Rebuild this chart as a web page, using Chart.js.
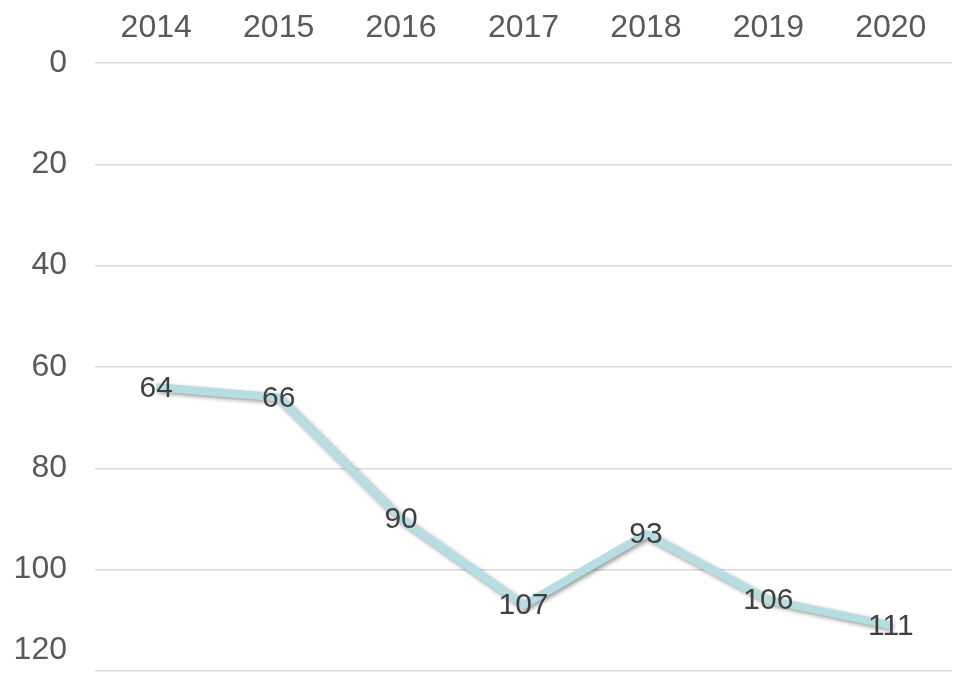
<!DOCTYPE html>
<html>
<head>
<meta charset="utf-8">
<script src="https://cdn.jsdelivr.net/npm/chart.js@4/dist/chart.umd.min.js"></script>
<style>
  body { margin: 0; background: #fff; }
  .res { width: 953px; height: 682px; }
</style>
</head>
<body>
<div class="res"><canvas id="chart"></canvas></div>
<script>
const years = ['2014', '2015', '2016', '2017', '2018', '2019', '2020'];
const values = [64, 66, 90, 107, 93, 106, 111];
const yTicks = [0, 20, 40, 60, 80, 100, 120];
const tickFont = '"Liberation Sans", Arial, sans-serif';

// soft shadow under the line
const lineShadow = {
    id: 'lineShadow',
    beforeDatasetDraw(chart) {
        let ctx = chart.ctx;
        ctx.save();
        ctx.shadowColor = 'rgba(0, 0, 0, 0.4)';
        ctx.shadowBlur = 4;
        ctx.shadowOffsetX = 2;
        ctx.shadowOffsetY = 2;
    },
    afterDatasetDraw(chart) {
        chart.ctx.restore();
    }
}

// value labels centred on each point, plus the last y label kept inside the canvas
const valueLabels = {
    id: 'valueLabels',
    afterDatasetsDraw(chart) {
        let ctx = chart.ctx;
        let meta = chart.getDatasetMeta(0);
        ctx.save();
        ctx.font = '30px ' + tickFont;
        ctx.fillStyle = '#404040';
        ctx.textAlign = 'center';
        ctx.textBaseline = 'middle';
        meta.data.forEach((pt, i) => {
            ctx.fillText(values[i], pt.x, pt.y + 1);
        });
        let y = chart.scales.y;
        let last = yTicks[yTicks.length - 1];
        ctx.font = '32px ' + tickFont;
        ctx.fillStyle = '#595959';
        ctx.textAlign = 'right';
        ctx.fillText(last, chart.chartArea.left - 28, y.getPixelForValue(last) - 21);
        ctx.restore();
    }
}

const data = {
    labels: years,
    datasets: [{
        data: values,
        borderColor: '#b6dde1',
        borderWidth: 8,
        pointRadius: 0,
        tension: 0,
        fill: false
    }]
}

const config = {
    type: 'line',
    data: data,
    options: {
        responsive: true,
        maintainAspectRatio: false,
        animation: false,
        layout: { padding: { right: 1, bottom: 11 } },
        plugins: {
            legend: { display: false },
            tooltip: { enabled: false }
        },
        scales: {
            x: {
                position: 'top',
                offset: true,
                grid: { display: false, drawTicks: false },
                border: { display: false },
                ticks: {
                    color: '#595959',
                    padding: 16,
                    font: { family: tickFont, size: 32 }
                },
                afterFit: (scale) => { scale.height = 63; }
            },
            y: {
                reverse: true,
                min: 0,
                max: 120,
                afterBuildTicks: (scale) => { scale.ticks = yTicks.map(v => ({ value: v })); },
                grid: { color: '#d9d9d9', lineWidth: 1.5, drawTicks: false },
                border: { display: false },
                ticks: {
                    color: '#595959',
                    padding: 28,
                    font: { family: tickFont, size: 32 },
                    callback: (v) => v === yTicks[yTicks.length - 1] ? '' : v
                },
                afterFit: (scale) => {
                    scale.width = 95;
                    scale.paddingTop = 0;
                    scale.paddingBottom = 0;
                }
            }
        }
    },
    plugins: [lineShadow, valueLabels]
}

const mychart = new Chart(document.getElementById('chart'), config);
</script>
</body>
</html>
